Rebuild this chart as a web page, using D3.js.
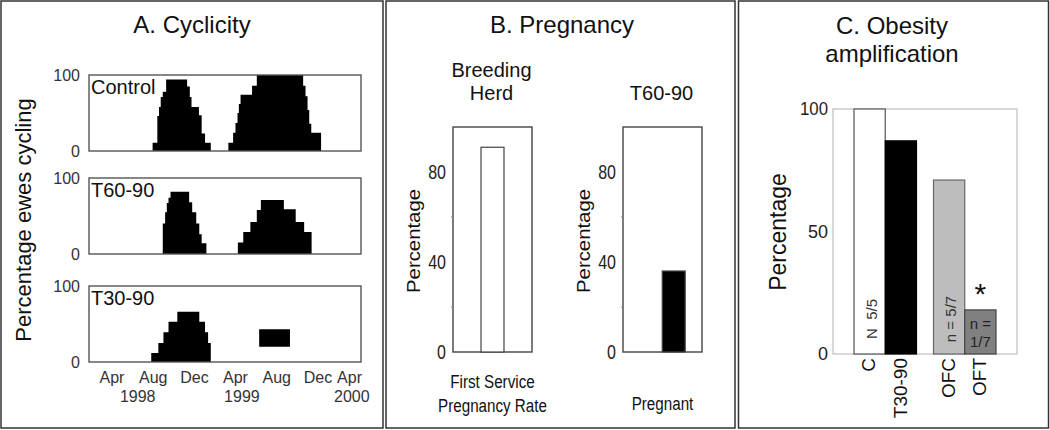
<!DOCTYPE html>
<html>
<head>
	<title>Cyclicity, pregnancy and obesity amplification</title>
	<style type="text/css">
		html, body {
			margin: 0;
			padding: 0;
			background-color: #fff;
		}
		svg text {
			font-family: "Liberation Sans", Arial, sans-serif;
		}
	</style>
</head>
<body>
	<div id="chart"></div>
	<script src="https://unpkg.com/d3@7.8.5/dist/d3.min.js"></script>
	<script type="text/javascript">
		// ---- A. Cyclicity: percentage of ewes cycling (weekly steps) ----
		const monthLabels = ['Apr', 'Aug', 'Dec', 'Apr', 'Aug', 'Dec', 'Apr'];
		const monthDates = ['1998-04-01', '1998-08-01', '1998-12-01', '1999-04-01', '1999-08-01', '1999-12-01', '2000-04-01'];
		const yearLabels = ['1998', '1999', '2000'];
		const yearDates = ['1998-06-16', '1999-04-20', '2000-03-10'];

		const controlDates = ['1998-07-30', '1998-08-13', '1998-08-18', '1998-08-23', '1998-08-29', '1998-09-08',
			'1998-11-09', '1998-11-17', '1998-11-22', '1998-12-14', '1998-12-22', '1999-01-01', '1999-01-18',
			'1999-03-11', '1999-03-25', '1999-04-01', '1999-04-07', '1999-04-11', '1999-04-16', '1999-05-20',
			'1999-06-03', '1999-10-18', '1999-10-25', '1999-10-31', '1999-11-05', '1999-11-11', '1999-12-10'];
		const controlValues = [11, 46, 58, 71, 78, 94, 85, 71, 58, 47, 23, 11, 0,
			11, 24, 37, 50, 62, 74, 86, 100, 86, 72, 54, 36, 24, 0];

		const t60Dates = ['1998-08-29', '1998-09-05', '1998-09-10', '1998-09-15', '1998-09-21', '1998-11-15',
			'1998-11-24', '1998-12-06', '1998-12-15', '1998-12-22', '1999-01-05',
			'1999-04-08', '1999-04-24', '1999-05-15', '1999-06-03', '1999-06-15', '1999-08-22', '1999-09-26',
			'1999-10-21', '1999-11-12'];
		const t60Values = [40, 55, 67, 74, 82, 68, 55, 40, 26, 14, 0,
			15, 29, 42, 58, 71, 59, 42, 29, 0];

		const t30Dates = ['1998-07-26', '1998-08-16', '1998-08-31', '1998-09-15', '1998-10-11', '1998-12-15',
			'1999-01-01', '1999-01-10', '1999-01-18', '1999-06-10', '1999-09-09'];
		const t30Values = [12, 25, 39, 53, 66, 53, 39, 25, 0, 43, 0];
		const t30Base = [0, 0, 0, 0, 0, 0, 0, 0, 0, 20, 0];

		const cycleGroups = ['Control', 'T60-90', 'T30-90'];
		const cycleTicks = [0, 100];

		// ---- B. Pregnancy ----
		const pregTitles = [['Breeding', 'Herd'], ['T60-90']];
		const pregCategories = [['First Service', 'Pregnancy Rate'], ['Pregnant']];
		const pregValues = [91, 36];
		const pregTicks = [0, 40, 80];

		// ---- C. Obesity amplification ----
		const obesityCategories = ['C', 'T30-90', 'OFC', 'OFT'];
		const obesityGroups = ['lean', 'lean', 'obese', 'obese'];
		const obesityValues = [100, 87, 71, 18];
		const obesityNotes = [['N  5/5'], [], ['n = 5/7'], ['n =', '1/7']];
		const obesityTicks = [0, 50, 100];

		const parseDate = d3.timeParse('%Y-%m-%d');

		const svg = d3.select('#chart')
			.append('svg')
			.attr('width', 1050)
			.attr('height', 430);

		svg.append('rect').attr('width', 1050).attr('height', 430).attr('fill', '#fff');

		// panel frames
		[[1, 1, 382, 427], [386, 1, 349, 427], [738.5, 1, 310, 427]].forEach(f => {
			svg.append('rect')
				.attr('x', f[0]).attr('y', f[1])
				.attr('width', f[2]).attr('height', f[3])
				.attr('fill', 'none')
				.attr('stroke', '#333')
				.attr('stroke-width', 1.5);
		});

		function title(lines, x, y, size, lineGap) {
			lines.forEach((t, i) => {
				svg.append('text')
					.attr('x', x)
					.attr('y', y + i * lineGap)
					.attr('text-anchor', 'middle')
					.attr('font-size', size)
					.attr('fill', '#111')
					.text(t);
			});
		}

		// no narrow face installed, so squeeze Liberation Sans instead
		function narrowText(parent, x, y, t, size, anchor) {
			return parent.append('text')
				.attr('transform', `translate(${x},${y}) scale(0.8,1)`)
				.attr('text-anchor', anchor)
				.attr('font-size', size)
				.attr('fill', '#111')
				.text(t);
		}

		// =================== Panel A ===================
		title(['A. Cyclicity'], 192, 33, 24, 0);

		const xTime = d3.scaleTime()
			.domain([new Date(1998, 0, 23), new Date(2000, 3, 6)])
			.range([89, 361]);

		const cycleSeries = [
			controlDates.map((d, i) => ({ date: parseDate(d), value: controlValues[i], base: 0 })),
			t60Dates.map((d, i) => ({ date: parseDate(d), value: t60Values[i], base: 0 })),
			t30Dates.map((d, i) => ({ date: parseDate(d), value: t30Values[i], base: t30Base[i] })),
		];
		const cycleTops = [75, 178, 286];
		const cycleHeight = 76;

		cycleSeries.forEach((series, k) => {
			const top = cycleTops[k];
			const y = d3.scaleLinear().domain([0, 100]).range([top + cycleHeight, top]);
			const g = svg.append('g');

			const area = d3.area()
				.curve(d3.curveStepAfter)
				.x(d => xTime(d.date))
				.y0(d => y(d.base))
				.y1(d => y(d.value));

			g.append('path')
				.attr('d', area(series))
				.attr('fill', '#000');

			g.append('rect')
				.attr('x', xTime.range()[0])
				.attr('y', top)
				.attr('width', xTime.range()[1] - xTime.range()[0])
				.attr('height', cycleHeight)
				.attr('fill', 'none')
				.attr('stroke', '#555')
				.attr('stroke-width', 1.4);

			const axis = g.append('g')
				.attr('transform', `translate(${xTime.range()[0]},0)`)
				.call(d3.axisLeft(y).tickValues(cycleTicks).tickSize(0).tickPadding(9));
			axis.select('.domain').remove();
			axis.selectAll('text')
				.attr('font-size', 16)
				.attr('fill', '#333')
				.style('font-family', '"Liberation Sans", Arial, sans-serif');

			g.append('text')
				.attr('x', xTime.range()[0] + 2)
				.attr('y', top + 19)
				.attr('font-size', 20)
				.attr('fill', '#111')
				.text(cycleGroups[k]);
		});

		const last = monthLabels.length - 1;
		svg.append('g').selectAll('text')
			.data(monthLabels)
			.join('text')
			.attr('x', (d, i) => i === last ? xTime.range()[1] + 1 : xTime(parseDate(monthDates[i])))
			.attr('y', 383)
			.attr('text-anchor', (d, i) => i === last ? 'end' : 'middle')
			.attr('font-size', 16)
			.attr('fill', '#333')
			.text(d => d);

		svg.append('g').selectAll('text')
			.data(yearLabels)
			.join('text')
			.attr('x', (d, i) => xTime(parseDate(yearDates[i])))
			.attr('y', 402)
			.attr('text-anchor', 'middle')
			.attr('font-size', 16)
			.attr('fill', '#333')
			.text(d => d);

		svg.append('text')
			.attr('transform', 'translate(31,220) rotate(-90)')
			.attr('text-anchor', 'middle')
			.attr('font-size', 22)
			.attr('fill', '#111')
			.text('Percentage ewes cycling');

		// =================== Panel B ===================
		title(['B. Pregnancy'], 562, 33, 24, 0);

		const pregBoxes = [453, 623];
		const pregBoxWidth = 79;
		const pregAlign = [0.5, 0.7];
		const yPreg = d3.scaleLinear().domain([0, 100]).range([352, 127]);

		pregValues.forEach((v, k) => {
			const left = pregBoxes[k];
			const center = left + pregBoxWidth / 2;
			const x = d3.scaleBand()
				.domain([pregCategories[k].join(' ')])
				.range([left, left + pregBoxWidth])
				.paddingInner(0)
				.paddingOuter(1.22)
				.align(pregAlign[k]);
			const g = svg.append('g');

			title(pregTitles[k], center - 1, pregTitles[k].length > 1 ? 77 : 100, 20, 23);

			g.append('rect')
				.attr('x', left)
				.attr('y', yPreg(100))
				.attr('width', pregBoxWidth)
				.attr('height', yPreg(0) - yPreg(100))
				.attr('fill', 'none')
				.attr('stroke', '#444')
				.attr('stroke-width', 1.4);

			g.append('rect')
				.attr('x', x(pregCategories[k].join(' ')))
				.attr('y', yPreg(v))
				.attr('width', x.bandwidth())
				.attr('height', yPreg(0) - yPreg(v))
				.attr('fill', k === 0 ? '#fff' : '#000')
				.attr('stroke', '#444')
				.attr('stroke-width', 1.2);

			pregTicks.forEach(t => {
				narrowText(g, left - 7, yPreg(t) + 7, t, 20, 'end').attr('fill', '#222');
			});
			// faint minor ticks between labels
			g.selectAll('line.minor')
				.data([20, 60])
				.join('line')
				.attr('x1', left - 2)
				.attr('x2', left)
				.attr('y1', d => yPreg(d))
				.attr('y2', d => yPreg(d))
				.attr('stroke', '#888');

			g.append('text')
				.attr('transform', `translate(${left - 33},241) rotate(-90)`)
				.attr('text-anchor', 'middle')
				.attr('font-size', 18)
				.attr('textLength', 104)
				.attr('lengthAdjust', 'spacingAndGlyphs')
				.attr('fill', '#111')
				.text('Percentage');

			pregCategories[k].forEach((t, i) => {
				narrowText(g, center, pregCategories[k].length > 1 ? 388 + i * 24 : 410, t, 19, 'middle');
			});
		});

		// =================== Panel C ===================
		title(['C. Obesity', 'amplification'], 892, 34, 24, 28);

		const yOb = d3.scaleLinear().domain([0, 100]).range([354, 109]);
		const xGroup = d3.scaleBand()
			.domain(['lean', 'obese'])
			.range([854, 996])
			.paddingInner(0.214);
		const xInner = d3.scaleBand()
			.domain([0, 1])
			.range([0, xGroup.bandwidth()]);
		const obesityFill = ['#fff', '#000', '#bdbdbd', '#808080'];
		const obesityStroke = ['#555', '#000', '#666', '#444'];

		const obesity = obesityCategories.map((c, i) => ({
			cat: c,
			group: obesityGroups[i],
			slot: obesityGroups.slice(0, i).filter(g => g === obesityGroups[i]).length,
			value: obesityValues[i],
			note: obesityNotes[i],
			i: i,
		}));
		const barX = d => xGroup(d.group) + xInner(d.slot);

		svg.append('rect')
			.attr('x', 833)
			.attr('y', yOb(100))
			.attr('width', 1017 - 833)
			.attr('height', yOb(0) - yOb(100))
			.attr('fill', 'none')
			.attr('stroke', '#c8c8c8')
			.attr('stroke-width', 1.4);

		svg.append('g').selectAll('rect')
			.data(obesity)
			.join('rect')
			.attr('x', barX)
			.attr('y', d => yOb(d.value))
			.attr('width', xInner.bandwidth())
			.attr('height', d => yOb(0) - yOb(d.value))
			.attr('fill', d => obesityFill[d.i])
			.attr('stroke', d => obesityStroke[d.i])
			.attr('stroke-width', 1.2);

		const obAxis = svg.append('g')
			.attr('transform', 'translate(833,0)')
			.call(d3.axisLeft(yOb).tickValues(obesityTicks).tickSize(0).tickPadding(5));
		obAxis.select('.domain').remove();
		obAxis.selectAll('text')
			.attr('font-size', 18)
			.attr('fill', '#222')
			.attr('textLength', d => d === 100 ? 28 : null)
			.attr('lengthAdjust', 'spacingAndGlyphs');

		// category labels (rotated)
		svg.append('g').selectAll('text')
			.data(obesity)
			.join('text')
			.attr('transform', d => `translate(${barX(d) + xInner.bandwidth() / 2 - 1},358) rotate(-90)`)
			.attr('text-anchor', 'end')
			.attr('dy', '0.35em')
			.attr('font-size', 19)
			.attr('fill', '#111')
			.text(d => d.cat);

		// sample-size notes inside bars
		obesity.filter(d => d.note.length === 1).forEach(d => {
			svg.append('text')
				.attr('transform', `translate(${barX(d) + xInner.bandwidth() / 2 + 2},319) rotate(-90)`)
				.attr('text-anchor', 'middle')
				.attr('dy', '0.35em')
				.attr('font-size', 15)
				.attr('fill', '#333')
				.style('white-space', 'pre')
				.text(d.note[0]);
		});
		obesity.filter(d => d.note.length === 2).forEach(d => {
			d.note.forEach((t, j) => {
				svg.append('text')
					.attr('x', barX(d) + xInner.bandwidth() / 2)
					.attr('y', 329 + j * 18)
					.attr('text-anchor', 'middle')
					.attr('font-size', 15)
					.attr('fill', '#222')
					.text(t);
			});
			svg.append('text')
				.attr('x', barX(d) + xInner.bandwidth() / 2)
				.attr('y', yOb(d.value) - 6)
				.attr('text-anchor', 'middle')
				.attr('font-size', 30)
				.attr('fill', '#111')
				.text('*');
		});

		svg.append('text')
			.attr('transform', 'translate(786,232) rotate(-90)')
			.attr('text-anchor', 'middle')
			.attr('font-size', 23)
			.attr('fill', '#111')
			.text('Percentage');
	</script>
</body>
</html>
